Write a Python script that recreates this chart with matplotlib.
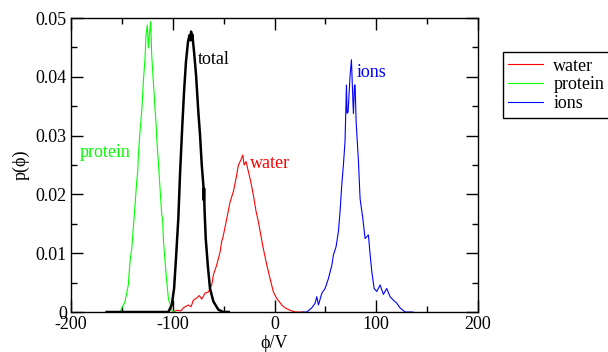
import matplotlib
matplotlib.use("Agg")
import matplotlib.pyplot as plt
from matplotlib.ticker import MultipleLocator

plt.rcParams['font.family'] = ['Liberation Serif', 'DejaVu Serif']

# histograms (phi in V, probability density)
total_x = [-165, -110, -104.3, -101, -98.7, -96.8, -94.5, -92.9, -90.6, -88.9, -87, -85, -83.5,
           -82.5, -82, -81.3, -80.8, -79.1, -77.1, -74.9, -73.2, -71.5, -69.9, -69.5, -69.2,
           -68.8, -67.6, -65.6, -63.4, -60.1, -55.2, -50.3, -45]
total_y = [0, 0, 0, 0.0012, 0.004, 0.0092, 0.016, 0.0233, 0.0318, 0.0375, 0.0426, 0.046, 0.0471,
           0.0462, 0.0477, 0.0465, 0.0472, 0.0443, 0.0403, 0.0341, 0.0301, 0.025, 0.0215, 0.019,
           0.021, 0.0175, 0.0125, 0.008, 0.004, 0.0018, 0.0004, 0, 0]

protein_x = [-165, -151.8, -146.9, -143.7, -142, -140.3, -138.8, -137.1, -135.4, -134.5, -133.8,
             -132.2, -130.5, -128.9, -127.3, -126.3, -125, -124, -123, -121.7, -120.7, -119.1,
             -117.4, -116.5, -115.7, -114.2, -112.5, -110.8, -110, -109.1, -107.6, -105.9,
             -104.3, -101, -98]
protein_y = [0, 0, 0.0018, 0.0046, 0.0086, 0.0108, 0.0142, 0.0182, 0.0222, 0.0238, 0.0267,
             0.0307, 0.0341, 0.0392, 0.0431, 0.0471, 0.0488, 0.0449, 0.047, 0.0494, 0.0437, 0.0392,
             0.0346, 0.0322, 0.0295, 0.0256, 0.021, 0.0165, 0.0158, 0.012, 0.0086, 0.0052,
             0.0023, 0.0003, 0]

water_x = [-100, -96.1, -92, -89.6, -84.7, -82, -79.8, -76.4, -74, -71.5, -68.3, -65, -61.7,
           -60.1, -56.8, -53.5, -51.9, -50.3, -46.9, -43.7, -40.4, -37.8, -35.5, -33.2, -31.2,
           -29.9, -28, -25.7, -23.4, -20.8, -18.1, -15.9, -13.5, -11, -7.6, -4.4, -1.1, 2.2,
           7.1, 10.4, 15.3, 20.2, 28]
water_y = [0, 0.0003, 0.0002, 0.0007, 0.0012, 0.0009, 0.002, 0.0024, 0.0028, 0.0022, 0.0032,
           0.0034, 0.0046, 0.0063, 0.008, 0.0102, 0.012, 0.013, 0.0159, 0.0187, 0.0205, 0.0227,
           0.025, 0.0258, 0.0267, 0.025, 0.0256, 0.0239, 0.0222, 0.0199, 0.0171, 0.0154, 0.0131,
           0.0108, 0.008, 0.0057, 0.0034, 0.0023, 0.0012, 0.0007, 0.0003, 0, 0]

ions_x = [28, 31.7, 36.6, 39.9, 41.5, 43.2, 46.5, 49.7, 53, 56.4, 57.9, 60.5, 62.8, 64.4, 66.1,
          67.7, 69.3, 70.7, 71.3, 72.3, 74.3, 75.6, 77.2, 77.6, 78.6, 79.2, 80.2, 82.5, 84.1,
          86.8, 89, 92.3, 94, 95.6, 97.9, 100.5, 103.8, 107, 110.3, 113.6, 116.9, 120.2, 123.4,
          128.3, 136]
ions_y = [0, 0, 0.0007, 0.0015, 0.0026, 0.0012, 0.0032, 0.004, 0.0057, 0.008, 0.0097, 0.0111,
          0.0137, 0.0171, 0.0216, 0.025, 0.029, 0.0386, 0.0338, 0.0340, 0.0403, 0.0429, 0.0352,
          0.0338, 0.0386, 0.0386, 0.0324, 0.0256, 0.0193, 0.0159, 0.0125, 0.0131, 0.0097, 0.0069,
          0.004, 0.0035, 0.0046, 0.003, 0.004, 0.0026, 0.002, 0.0015, 0.0007, 0, 0]

xticks = [-200, -100, 0, 100, 200]
yticks = [0, 0.01, 0.02, 0.03, 0.04, 0.05]
ytick_labels = ['0', '0.01', '0.02', '0.03', '0.04', '0.05']

fig = plt.figure(figsize=(6.08, 3.52), dpi=100)
ax = fig.add_axes([0.1168, 0.1136, 0.6694, 0.8352])

l_w, = ax.plot(water_x, water_y, color='red', lw=0.8)
l_p, = ax.plot(protein_x, protein_y, color='#00ff00', lw=0.8)
l_i, = ax.plot(ions_x, ions_y, color='blue', lw=0.8)
ax.plot(total_x, total_y, color='black', lw=1.8)

ax.text(-191, 0.0272, 'protein', color='#00ff00', fontsize=13, va='center')
ax.text(-75, 0.0429, 'total', color='black', fontsize=13, va='center')
ax.text(-24, 0.0253, 'water', color='red', fontsize=13, va='center')
ax.text(81, 0.0408, 'ions', color='blue', fontsize=13, va='center')

ax.set_xlim(-200, 200)
ax.set_ylim(0, 0.05)
ax.set_xticks(xticks)
ax.set_xticklabels([str(t) for t in xticks])
ax.set_yticks(yticks)
ax.set_yticklabels(ytick_labels)
ax.xaxis.set_minor_locator(MultipleLocator(50))
ax.yaxis.set_minor_locator(MultipleLocator(0.005))
ax.tick_params(which='both', direction='in', top=True, right=True, labelsize=13, width=1)
ax.tick_params(which='major', length=8.5, pad=3)
ax.tick_params(which='minor', length=4.3)
for s in ax.spines.values():
    s.set_linewidth(1)

ax.set_xlabel('ϕ/V', fontsize=13, labelpad=1)
ax.set_ylabel('p(ϕ)', fontsize=13, labelpad=4)

leg = fig.legend([l_w, l_p, l_i], ['water', 'protein', 'ions'], loc='upper left',
                 bbox_to_anchor=(0.827, 0.852), fontsize=13, frameon=True, fancybox=False,
                 framealpha=1, edgecolor='black', handlelength=1.9, borderpad=0.3,
                 labelspacing=0.1, handletextpad=0.6, borderaxespad=0)
leg.get_frame().set_linewidth(1)

fig.savefig('out.png', dpi=100)
